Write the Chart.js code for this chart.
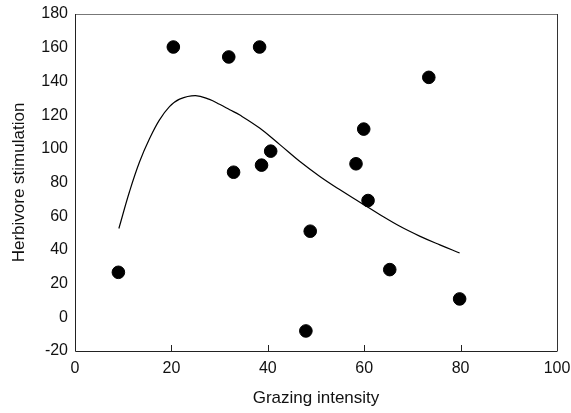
<!DOCTYPE html>
<html>
<head>
<meta charset="utf-8">
<script src="https://cdn.jsdelivr.net/npm/chart.js@4/dist/chart.umd.min.js"></script>
<style>
html,body{margin:0;padding:0;background:#fff;}
#wrap{width:571px;height:413px;}
</style>
</head>
<body>
<div id="wrap"><canvas id="c" width="571" height="413"></canvas></div>
<script>
// Observed points
const grazingX = [9.0, 20.4, 31.9, 38.3, 32.9, 38.7, 40.6, 48.8, 47.9, 65.3, 79.8, 60.8, 58.3, 59.9, 73.4];
const stimulationY = [26.7, 160.4, 154.5, 160.4, 86.1, 90.3, 98.6, 51.1, -8.1, 28.3, 10.9, 69.3, 91.1, 111.7, 142.4];
// Fitted curve
const curveX = [9.1, 11.3, 13.4, 15.5, 17.5, 19.6, 21.7, 25.0, 27.9, 30.0, 32.1, 34.2, 38.3, 42.5, 46.6, 50.8, 54.9, 59.1, 63.2, 67.4, 71.5, 75.7, 79.8];
const curveY = [52.7, 74.5, 92.3, 106.2, 117.0, 125.0, 129.5, 131.6, 129.3, 126.4, 123.2, 120.0, 112.3, 102.5, 92.6, 83.6, 75.8, 68.3, 61.0, 54.0, 48.2, 43.0, 38.2];
// Axis ticks
const xTicks = [0, 20, 40, 60, 80, 100];
const yTicks = [-20, 0, 20, 40, 60, 80, 100, 120, 140, 160, 180];
const xTitle = 'Grazing intensity';
const yTitle = 'Herbivore stimulation';

const FONT = '"Liberation Sans", Arial, sans-serif';

const framePlugin = {
  id: 'frame',
  afterDatasetsDraw(chart) {
    const {ctx, chartArea: a, scales} = chart;
    ctx.save();
    ctx.lineWidth = 1;
    ctx.strokeStyle = '#777';
    ctx.beginPath();
    ctx.moveTo(a.left, a.top + 0.5);
    ctx.lineTo(a.right + 0.5, a.top + 0.5);
    ctx.stroke();
    ctx.strokeStyle = '#333';
    ctx.beginPath();
    ctx.moveTo(a.right + 0.5, a.top);
    ctx.lineTo(a.right + 0.5, a.bottom);
    ctx.stroke();
    ctx.strokeStyle = '#222';
    ctx.beginPath();
    ctx.moveTo(a.left + 0.5, a.top);
    ctx.lineTo(a.left + 0.5, a.bottom + 0.5);
    ctx.lineTo(a.right + 0.5, a.bottom + 0.5);
    ctx.stroke();
    scales.x.ticks.forEach(t => {
      const px = Math.round(scales.x.getPixelForValue(t.value)) + 0.5;
      if (px <= a.left + 1 || px >= a.right - 1) return;
      ctx.beginPath();
      ctx.moveTo(px, a.bottom);
      ctx.lineTo(px, a.bottom - 6);
      ctx.stroke();
    });
    ctx.restore();
  }
};

new Chart(document.getElementById('c'), {
  type: 'scatter',
  data: {
    datasets: [
      {
        label: 'fit',
        data: curveX.map((x, i) => ({x, y: curveY[i]})),
        showLine: true,
        borderColor: '#000',
        borderWidth: 1.2,
        pointRadius: 0,
        tension: 0.4,
        fill: false
      },
      {
        label: 'obs',
        data: grazingX.map((x, i) => ({x, y: stimulationY[i]})),
        backgroundColor: '#000',
        borderColor: '#000',
        pointRadius: 6.3,
        pointHoverRadius: 6.3,
        showLine: false
      }
    ]
  },
  options: {
    responsive: false,
    animation: false,
    devicePixelRatio: 1,
    layout: {padding: {top: 14, right: 14, left: 0, bottom: 0}},
    plugins: {legend: {display: false}, tooltip: {enabled: false}},
    scales: {
      x: {
        type: 'linear',
        min: xTicks[0], max: xTicks[xTicks.length - 1],
        afterBuildTicks: s => { s.ticks = xTicks.map(v => ({value: v})); },
        afterFit: s => { s.height = 62; s.paddingLeft = 0; s.paddingRight = 0; },
        grid: {display: false, drawTicks: false},
        border: {display: false},
        ticks: {color: '#111', font: {family: FONT, size: 16}, padding: 8, maxRotation: 0},
        title: {display: true, text: xTitle, color: '#111', font: {family: FONT, size: 17}, padding: {top: 4, bottom: 4}}
      },
      y: {
        type: 'linear',
        min: yTicks[0], max: yTicks[yTicks.length - 1],
        afterBuildTicks: s => { s.ticks = yTicks.map(v => ({value: v})); },
        afterFit: s => { s.width = 75; s.paddingTop = 0; s.paddingBottom = 0; },
        grid: {display: false, drawTicks: false},
        border: {display: false},
        ticks: {color: '#111', font: {family: FONT, size: 16}, padding: 7},
        title: {display: true, text: yTitle, color: '#111', font: {family: FONT, size: 17}, padding: {top: 9, bottom: 0}}
      }
    }
  },
  plugins: [framePlugin]
});
</script>
</body>
</html>
